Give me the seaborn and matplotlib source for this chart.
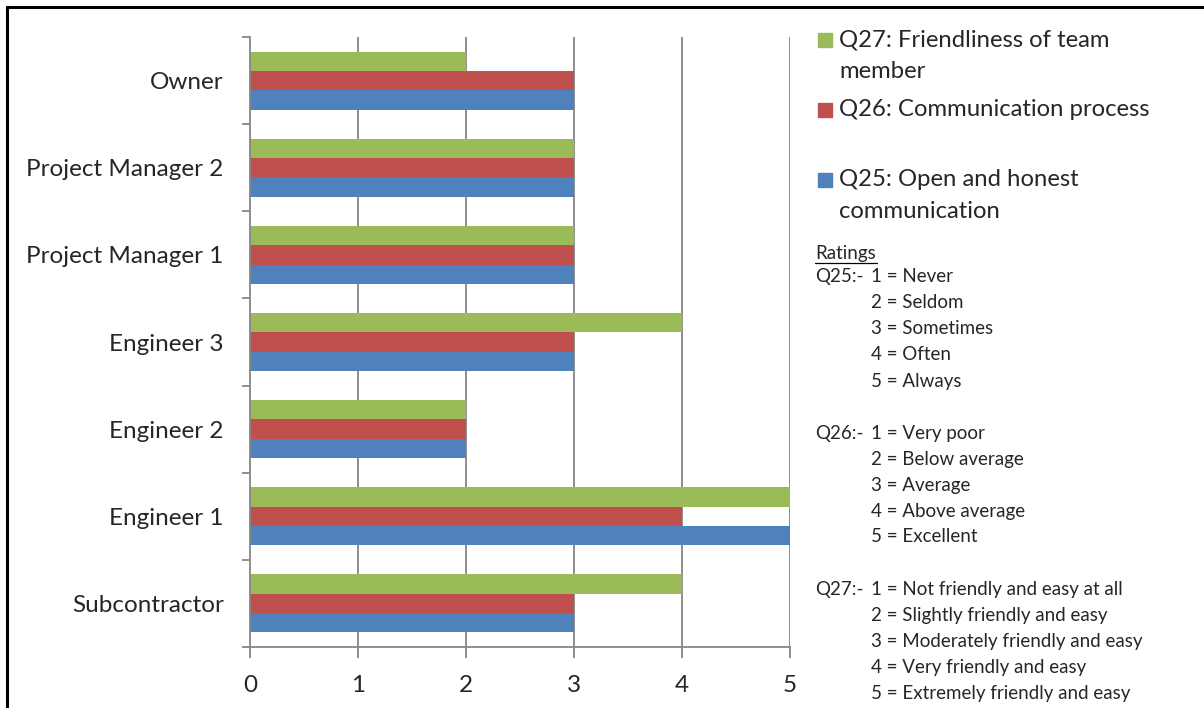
import pandas as pd
import numpy as np
import matplotlib.pyplot as plt
import seaborn as sns
from matplotlib.patches import Rectangle
from matplotlib.lines import Line2D

# data
roles = ['Owner', 'Project Manager 2', 'Project Manager 1', 'Engineer 3',
         'Engineer 2', 'Engineer 1', 'Subcontractor']
q27 = [2, 3, 3, 4, 2, 5, 4]
q26 = [3, 3, 3, 3, 2, 4, 3]
q25 = [3, 3, 3, 3, 2, 5, 3]
series_names = ['Q27: Friendliness of team member',
                'Q26: Communication process',
                'Q25: Open and honest communication']
series_colors = ['#9BBB59', '#C0504D', '#4F81BD']
x_ticks = [0, 1, 2, 3, 4, 5]

ratings_q25 = ['1 = Never', '2 = Seldom', '3 = Sometimes', '4 = Often', '5 = Always']
ratings_q26 = ['1 = Very poor', '2 = Below average', '3 = Average',
               '4 = Above average', '5 = Excellent']
ratings_q27 = ['1 = Not friendly and easy at all', '2 = Slightly friendly and easy',
               '3 = Moderately friendly and easy', '4 = Very friendly and easy',
               '5 = Extremely friendly and easy']

df = pd.DataFrame({
    'role': roles * 3,
    'series': [series_names[0]] * 7 + [series_names[1]] * 7 + [series_names[2]] * 7,
    'value': q27 + q26 + q25,
})

sns.set_style('white')
plt.rcParams['font.family'] = ['Lato', 'DejaVu Sans']

W, H = 1204, 708
fig = plt.figure(figsize=(W / 100, H / 100), dpi=100)
ax = fig.add_axes([250 / W, 1 - 647 / H, 540 / W, 610 / H])

sns.barplot(data=df, y='role', x='value', hue='series', order=roles,
            hue_order=series_names, palette=series_colors, orient='h',
            width=0.667, saturation=1, ax=ax, legend=False, linewidth=0)

ax.set_xlim(0, 5)
ax.set_ylim(len(roles) - 0.5, -0.5)
ax.set_xticks(x_ticks)
ax.set_xlabel('')
ax.set_ylabel('')
ax.grid(False)
for v in x_ticks[1:]:
    ax.axvline(v, color='#868686', lw=1.3, zorder=0)
ax.set_axisbelow(True)

for s in ['top', 'right']:
    ax.spines[s].set_visible(False)
for s in ['left', 'bottom']:
    ax.spines[s].set_color('#868686')
    ax.spines[s].set_linewidth(1.3)

ax.tick_params(axis='x', length=8, width=1.3, color='#868686', pad=12,
               labelsize=17.5, direction='out', bottom=True)
ax.set_yticks(np.arange(len(roles)))
ax.set_yticklabels(roles)
ax.tick_params(axis='y', length=0, pad=19, labelsize=17.5)
ax.set_yticks(np.arange(len(roles) + 1) - 0.5, minor=True)
ax.tick_params(axis='y', which='minor', length=6, width=1.3, color='#868686',
               direction='out', left=True)

def px(x, y):
    return x / W, 1 - y / H

# legend drawn by hand because of its uneven spacing
legend_rows = [(40, ['Q27: Friendliness of team', 'member']),
               (110, ['Q26: Communication process']),
               (180, ['Q25: Open and honest', 'communication'])]
for (y, lines), c in zip(legend_rows, series_colors):
    fig.patches.append(Rectangle(px(818, y + 7), 14 / W, 14 / H, color=c,
                                 transform=fig.transFigure, figure=fig))
    for i, t in enumerate(lines):
        fig.text(*px(839, y + 32 * i), t, fontsize=17.2, va='center', ha='left')

# ratings notes
fig.text(*px(815, 253), 'Ratings', fontsize=13.5, va='center', ha='left')
fig.add_artist(Line2D([815 / W, 877 / W], [1 - 263 / H, 1 - 263 / H],
                      color='black', lw=0.9, transform=fig.transFigure))
blocks = [('Q25:-', 277, ratings_q25), ('Q26:-', 433, ratings_q26),
          ('Q27:-', 590, ratings_q27)]
for label, y0, items in blocks:
    fig.text(*px(815, y0), label, fontsize=13.5, va='center', ha='left')
    for i, t in enumerate(items):
        fig.text(*px(871, y0 + 26 * i), t, fontsize=13.5, va='center', ha='left')

# outer frame (top and left edges)
fig.add_artist(Line2D([7 / W, 7 / W], [0, 1 - 7 / H], color='black', lw=2.2,
                      transform=fig.transFigure))
fig.add_artist(Line2D([7 / W, 1], [1 - 7 / H, 1 - 7 / H], color='black', lw=2.2,
                      transform=fig.transFigure))

fig.savefig('out.png', dpi=100)
